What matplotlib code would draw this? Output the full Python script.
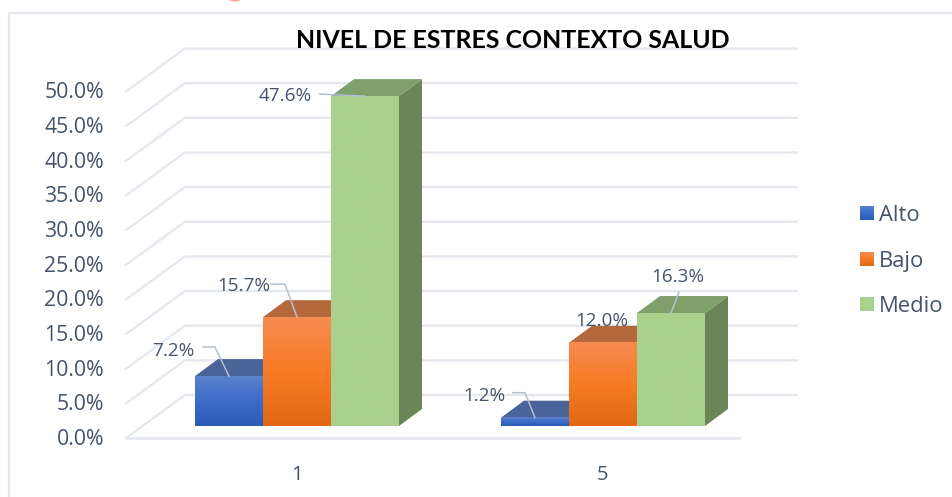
import numpy as np
import matplotlib
matplotlib.use('Agg')
import matplotlib.pyplot as plt
from matplotlib.patches import Polygon, Ellipse

title = 'NIVEL DE ESTRES CONTEXTO SALUD'
groups = ['1', '5']
series = ['Alto', 'Bajo', 'Medio']
alto = [7.2, 1.2]
bajo = [15.7, 12.0]
medio = [47.6, 16.3]
y_ticks = [0, 5, 10, 15, 20, 25, 30, 35, 40, 45, 50]

W, H = 953, 497
PX_PER_UNIT = 306.0
PX_PER_PCT = 6.93
X0 = 297.0
Y0 = 426.0
TXT = '#44546a'
GRID = '#e5e8ee'
LEAD = '#b4bfd0'


def dx(px):
	return px / PX_PER_UNIT


def dy(px):
	return px / PX_PER_PCT


fig = plt.figure(figsize=(W / 100, H / 100), dpi=100)
ax = fig.add_axes([0, 0, 1, 1])
ax.axis('off')

trans_fig = ax.transAxes


# chart frame, only top and left are visible
def fig_line(x, y, **kw):
	ax.plot([a / W for a in x], [1 - b / H for b in y], transform=trans_fig, **kw)


fig_line([9, W], [13, 13], color='#e3e6ec', lw=1.6, solid_capstyle='butt', zorder=1)
fig_line([9, 9], [13, H], color='#e3e6ec', lw=1.6, solid_capstyle='butt', zorder=1)
ax.add_patch(Ellipse((235 / W, 1 + 8 / H), 18 / W, 18 / H, transform=trans_fig, color='#ff9a9a', zorder=1, clip_on=False))

# side wall and back wall grid lines
x_front = dx(126 - X0)
x_back = dx(185 - X0)
x_end = dx(797 - X0)
floor_shift = dy(Y0 - 438)  # value of the front floor edge is below zero
for t in y_ticks:
	yf = t + floor_shift
	yb = t + dy(Y0 - 395)
	ax.plot([x_front, x_back, x_end], [yf, yb, yb], color=GRID, lw=1.7, zorder=1, solid_joinstyle='miter')
	ax.text(dx(104 - X0), yf + dy(1), '%.1f%%' % t, ha='right', va='center_baseline', color=TXT, fontsize=15.3, family='Open Sans', zorder=6)

# floor front edge
ax.plot([x_front, dx(739 - X0)], [floor_shift, floor_shift], color=GRID, lw=2, zorder=1)

for i, g in enumerate(groups):
	ax.text(i, dy(Y0 - 475), g, ha='center', va='center', color=TXT, fontsize=14.5, family='Open Sans')

# bars
bar_w = dx(68)
depth_x = dx(23)
depth_y = dy(17)
cmaps = {
	'Alto': ['#2a5cb4', '#3b6cc8', '#5b82cc'],
	'Bajo': ['#e26714', '#f87b24', '#f48b50'],
	'Medio': ['#a9d18e', '#a9d18e', '#a9d18e'],
}
top_col = {'Alto': '#4a6399', 'Bajo': '#b5683c', 'Medio': '#7f9f6b'}
side_col = {'Alto': '#3a5488', 'Bajo': '#a85c30', 'Medio': '#6b8559'}
values = {'Alto': alto, 'Bajo': bajo, 'Medio': medio}


def grad_img(cols):
	rgb = [matplotlib.colors.to_rgb(c) for c in cols]
	t = np.linspace(0, 1, 64)
	out = np.zeros((64, 1, 3))
	for k in range(3):
		out[:, 0, k] = np.interp(t, [0, 0.5, 1], [c[k] for c in rgb])
	return out


z = 2
for i in range(len(groups)):
	for j, s in enumerate(series):
		v = values[s][i]
		left = i + (j - 1.5) * bar_w
		right = left + bar_w
		# side face and top face
		ax.add_patch(Polygon([(right, 0), (right + depth_x, depth_y), (right + depth_x, v + depth_y), (right, v)], color=side_col[s], lw=0, zorder=z))
		ax.add_patch(Polygon([(left, v), (left + depth_x, v + depth_y), (right + depth_x, v + depth_y), (right, v)], color=top_col[s], lw=0, zorder=z))
		# front face with its gradient
		ax.imshow(grad_img(cmaps[s]), extent=(left, right, 0, v), origin='lower', aspect='auto', zorder=z + 0.5, interpolation='bilinear')
		z += 1

# data labels with leader lines: offsets in pixels from the bar top centre
label_layout = {
	('Medio', 0): ((-80, 2), [(-45, 2), (0, 0)]),
	('Bajo', 0): ((-53, 33), [(-26, 33), (-12, 33), (0, 0)]),
	('Alto', 0): ((-56, 27), [(-26, 29), (-14, 29), (0, 0)]),
	('Alto', 1): ((-51, 24), [(-22, 25), (-10, 25), (0, 0)]),
	('Bajo', 1): ((-1, 24), []),
	('Medio', 1): ((7, 38), [(8, 21), (0, 0)]),
}
for (s, i), (txt_off, lead) in label_layout.items():
	j = series.index(s)
	v = values[s][i]
	cx = i + (j - 1) * bar_w
	if lead:
		xs = [cx + dx(p[0]) for p in lead]
		ys = [v + dy(p[1]) for p in lead]
		ax.plot(xs, ys, color=LEAD, lw=1.1, zorder=20)
	ax.text(cx + dx(txt_off[0]), v + dy(txt_off[1]), '%.1f%%' % v, ha='center', va='center_baseline', color=TXT, fontsize=13.6, family='Open Sans', zorder=21)

# legend
legend_y = [213, 259, 304]
for s, ly in zip(series, legend_y):
	lx = dx(860 - X0)
	yy = dy(Y0 - ly)
	ax.imshow(grad_img(cmaps[s]), extent=(lx, lx + dx(14), yy - dy(7), yy + dy(7)), origin='lower', aspect='auto', zorder=5)
	ax.text(dx(879 - X0), yy, s, ha='left', va='center_baseline', color=TXT, fontsize=15.8, family='Open Sans')

ax.set_xlim(-X0 / PX_PER_UNIT, (W - X0) / PX_PER_UNIT)
ax.set_ylim((Y0 - H) / PX_PER_PCT, Y0 / PX_PER_PCT)

ax.text(dx(513 - X0), dy(Y0 - 40), title, ha='center', va='center', color='black', fontsize=17.9, fontweight='bold', family='Lato', zorder=30)

fig.savefig('out.png', dpi=100)
